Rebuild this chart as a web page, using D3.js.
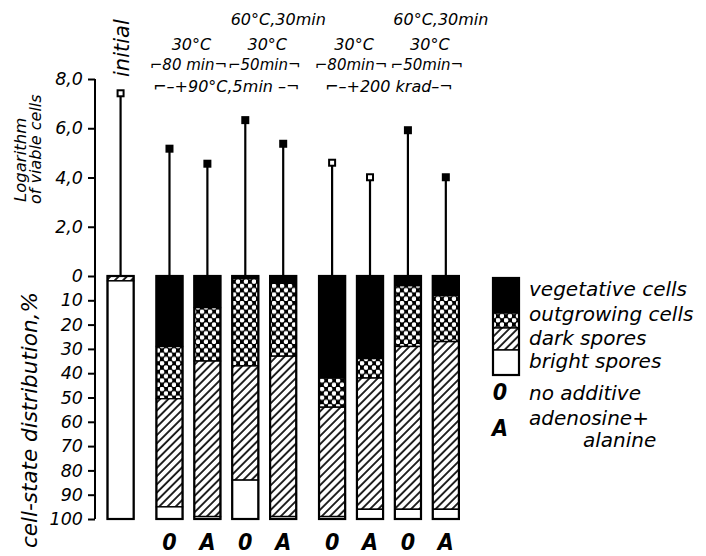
<!DOCTYPE html>
<html>
<head>
<meta charset="utf-8">
<script src="https://cdn.jsdelivr.net/npm/d3@7"></script>
<style>
  html, body { margin: 0; padding: 0; background: #fff; }
  svg { display: block; }
  text { font-family: "DejaVu Sans", sans-serif; font-style: italic; fill: #000; }
  .mark { font-family: "DejaVu Sans Condensed", "DejaVu Sans", sans-serif; font-weight: bold; font-style: italic; }
</style>
</head>
<body>
<svg id="chart" width="706" height="556"></svg>
<script>
// Bars: initial suspension, then heat-treated (+90 °C, 5 min) and irradiated (+200 krad) spores
const barIds       = ["initial", "h80_O", "h80_A", "h50_O", "h50_A", "r80_O", "r80_A", "r50_O", "r50_A"];
const barGroup     = [0, 1, 1, 1, 1, 2, 2, 2, 2];
const additive     = ["", "0", "A", "0", "A", "0", "A", "0", "A"];

// Logarithm of viable cells (stem height) and symbol type
const logViable    = [7.42, 5.17, 4.56, 6.33, 5.37, 4.60, 4.01, 5.92, 4.01];
const markerOpen   = [true, false, false, false, false, true, true, false, false];

// Cell-state distribution, % (stacked from the top)
const vegetative   = [0, 29, 13, 1, 3, 42, 34, 4, 8];
const outgrowing   = [0, 21.5, 22, 36, 30, 12, 8, 25, 19];
const darkSpores   = [2, 44.5, 64, 47, 66, 45, 54, 67, 69];
const brightSpores = [98, 5, 1, 16, 1, 1, 4, 4, 4];

// Axis ticks
const logTicks = [2, 4, 6, 8];
const pctTicks = [0, 10, 20, 30, 40, 50, 60, 70, 80, 90, 100];

// Legend
const stateKeys   = ["vegetative", "outgrowing", "dark", "bright"];
const stateLabels = ["vegetative cells", "outgrowing cells", "dark spores", "bright spores"];
const additiveKeys   = ["0", "A"];
const additiveLabels = [["no additive"], ["adenosine+", "alanine"]];

// Treatment headings above the bars (row, text, first bar, last bar)
const headRow  = [0, 0, 1, 1, 1, 1, 2, 2, 2, 2, 3, 3];
const headText = ["60°C,30min", "60°C,30min", "30°C", "30°C", "30°C", "30°C",
                  "⌐80 min¬", "⌐50min¬", "⌐80min¬", "⌐50min¬",
                  "⌐–+90°C,5min –¬", "⌐–+200 krad–¬"];
const headFrom = [3, 7, 1, 3, 5, 7, 1, 3, 5, 7, 1, 5];
const headTo   = [4, 8, 2, 4, 6, 8, 2, 4, 6, 8, 4, 8];

const svg = d3.select("#chart");
const defs = svg.append("defs");

// Outgrowing cells: black ground with white dots
const cross = defs.append("pattern").attr("id", "cross")
  .attr("patternUnits", "userSpaceOnUse").attr("width", 8).attr("height", 8.6);
cross.append("rect").attr("width", 8).attr("height", 8.6).attr("fill", "#000");
cross.append("circle").attr("cx", 2).attr("cy", 2.1).attr("r", 2.3).attr("fill", "#fff");
cross.append("circle").attr("cx", 6).attr("cy", 6.4).attr("r", 2.3).attr("fill", "#fff");

// Dark spores: diagonal hatching
const hatch = defs.append("pattern").attr("id", "hatch")
  .attr("patternUnits", "userSpaceOnUse").attr("width", 5.8).attr("height", 5.8)
  .attr("patternTransform", "rotate(45)");
hatch.append("rect").attr("width", 5.8).attr("height", 5.8).attr("fill", "#fff");
hatch.append("line").attr("x1", 1).attr("y1", 0).attr("x2", 1).attr("y2", 5.8)
  .attr("stroke", "#000").attr("stroke-width", 1.7);

const fills = { vegetative: "#000", outgrowing: "url(#cross)", dark: "url(#hatch)", bright: "#fff" };

// Scales
const axisX = 95;
const yLog = d3.scaleLinear().domain([0, 8]).range([276, 79]);
const yPct = d3.scaleLinear().domain([0, 100]).range([276, 519]);
const groupGap = 11;
const xBand = d3.scaleBand().domain(barIds).range([107.5, 107.5 + 8 * 37.9 + 26.2]).paddingInner(0.31);
const barLeft = i => xBand(barIds[i]) + barGroup[i] * groupGap;
const barMid  = i => barLeft(i) + xBand.bandwidth() / 2;
const bw = xBand.bandwidth();

// Axes
const commaFmt = d => d3.format(".1f")(d).replace(".", ",");
const axLog = svg.append("g").attr("transform", `translate(${axisX},0)`)
  .call(d3.axisLeft(yLog).tickValues(logTicks).tickFormat(commaFmt).tickSize(7).tickPadding(5));
const axPct = svg.append("g").attr("transform", `translate(${axisX},0)`)
  .call(d3.axisLeft(yPct).tickValues(pctTicks).tickFormat(d3.format("d")).tickSize(7).tickPadding(5));
[axLog, axPct].forEach(a => {
  a.select(".domain").remove();
  a.selectAll(".tick line").attr("stroke", "#000").attr("stroke-width", 2);
  a.selectAll(".tick text").attr("font-family", "DejaVu Sans, sans-serif")
    .attr("font-style", "italic").attr("font-size", 17.5).attr("fill", "#000");
});
svg.append("line").attr("x1", axisX).attr("x2", axisX)
  .attr("y1", yLog(8)).attr("y2", yPct(100))
  .attr("stroke", "#000").attr("stroke-width", 2);

// Axis titles
svg.append("text").attr("transform", "translate(26,202) rotate(-90)")
  .attr("font-size", 16.5).text("Logarithm");
svg.append("text").attr("transform", "translate(41,204) rotate(-90)")
  .attr("font-size", 16).text("of viable cells");
svg.append("text").attr("transform", "translate(37,548) rotate(-90)")
  .attr("font-size", 21.5).text("cell-state distribution,%");

// Stacked cell-state bars
const rows = barIds.map((id, i) => ({
  id, i,
  vegetative: vegetative[i], outgrowing: outgrowing[i],
  dark: darkSpores[i], bright: brightSpores[i]
}));
const stacked = d3.stack().keys(stateKeys)(rows);
const layers = svg.append("g").selectAll("g").data(stacked).join("g")
  .attr("fill", d => fills[d.key]);
layers.selectAll("rect").data(d => d).join("rect")
  .attr("x", d => barLeft(d.data.i))
  .attr("width", bw)
  .attr("y", d => yPct(d[0]))
  .attr("height", d => yPct(d[1]) - yPct(d[0]))
  .attr("stroke", "#000").attr("stroke-width", 1.4);
svg.append("g").selectAll("rect").data(rows).join("rect")
  .attr("x", d => barLeft(d.i)).attr("width", bw)
  .attr("y", yPct(0)).attr("height", yPct(100) - yPct(0))
  .attr("fill", "none").attr("stroke", "#000").attr("stroke-width", 2.2);

// Viable-cell stems with symbols
svg.append("g").selectAll("line").data(rows).join("line")
  .attr("x1", d => barMid(d.i)).attr("x2", d => barMid(d.i))
  .attr("y1", yLog(0)).attr("y2", d => yLog(logViable[d.i]))
  .attr("stroke", "#000").attr("stroke-width", 2.2);
const ms = 8;
svg.append("g").selectAll("rect").data(rows).join("rect")
  .attr("x", d => barMid(d.i) - ms / 2).attr("y", d => yLog(logViable[d.i]) - ms / 2)
  .attr("width", ms).attr("height", ms).attr("fill", "#000");
svg.append("g").selectAll("rect").data(rows.filter(d => markerOpen[d.i])).join("rect")
  .attr("x", d => barMid(d.i) - 2).attr("y", d => yLog(logViable[d.i]) - 2)
  .attr("width", 4).attr("height", 4).attr("fill", "#fff");

// Additive letters under the bars
svg.append("g").selectAll("text").data(rows.filter(d => additive[d.i])).join("text")
  .attr("class", "mark")
  .attr("x", d => barMid(d.i)).attr("y", 550)
  .attr("text-anchor", "middle").attr("font-size", 23)
  .text(d => additive[d.i]);

// "initial" label
svg.append("text").attr("transform", `translate(${barMid(0) + 8},77) rotate(-90)`)
  .attr("font-size", 21).text("initial");

// Treatment headings
const rowBase = [25, 50, 70, 92];
const rowShift = [14, 3, 0, 0];
const rowSize = [16, 16, 15, 16];
svg.append("g").selectAll("text").data(headText).join("text")
  .attr("x", (t, k) => (barMid(headFrom[k]) + barMid(headTo[k])) / 2 + rowShift[headRow[k]])
  .attr("y", (t, k) => rowBase[headRow[k]])
  .attr("text-anchor", "middle").attr("font-size", (t, k) => rowSize[headRow[k]])
  .text(t => t);

// Legend
const lgX = 493, lgW = 26;
const lgH = [35, 15, 22, 25];
let lgY = 278;
const lg = svg.append("g");
stateKeys.forEach((k, j) => {
  lg.append("rect").attr("x", lgX).attr("y", lgY).attr("width", lgW).attr("height", lgH[j])
    .attr("fill", fills[k]).attr("stroke", "#000").attr("stroke-width", 1.4);
  lgY += lgH[j];
});
lg.append("rect").attr("x", lgX).attr("y", 278).attr("width", lgW).attr("height", lgY - 278)
  .attr("fill", "none").attr("stroke", "#000").attr("stroke-width", 2.2);
const lgBase = [296, 321, 345, 368];
stateLabels.forEach((t, j) => {
  lg.append("text").attr("x", 529).attr("y", lgBase[j]).attr("font-size", 20).text(t);
});
const addBase = [400, 436];
additiveKeys.forEach((k, j) => {
  lg.append("text").attr("class", "mark").attr("x", 500).attr("y", addBase[j])
    .attr("text-anchor", "middle").attr("font-size", 23).text(k);
});
lg.append("text").attr("x", 529).attr("y", 400).attr("font-size", 20).text(additiveLabels[0][0]);
lg.append("text").attr("x", 529).attr("y", 425).attr("font-size", 20).text(additiveLabels[1][0]);
lg.append("text").attr("x", 583).attr("y", 447).attr("font-size", 20).text(additiveLabels[1][1]);
</script>
</body>
</html>
